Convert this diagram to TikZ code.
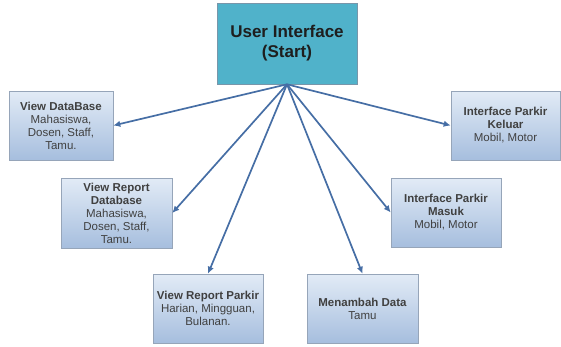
\documentclass[tikz,border=0pt]{standalone}
\usepackage{fontspec}
\setmainfont{Liberation Sans}
\usetikzlibrary{arrows.meta}
\definecolor{topfill}{RGB}{80,178,202}
\definecolor{topline}{RGB}{120,150,170}
\definecolor{boxtop}{RGB}{226,235,246}
\definecolor{boxbot}{RGB}{166,190,222}
\definecolor{boxline}{RGB}{150,165,185}
\definecolor{arrcol}{RGB}{70,110,165}
\definecolor{txt}{RGB}{30,30,30}
\begin{document}
\begin{tikzpicture}[x=1pt,y=1pt,
  topbox/.style={draw=topline,line width=0.6pt,fill=topfill,minimum width=140pt,minimum height=81pt,
    align=center,font=\fontsize{17}{20}\selectfont\bfseries,text=txt,inner sep=0pt},
  subbox/.style={draw=boxline,line width=0.6pt,top color=boxtop,bottom color=boxbot,
    minimum height=69pt,align=center,font=\fontsize{11.5}{13}\selectfont,text=txt!85,inner sep=0pt},
  arr/.style={draw=arrcol,line width=1.7pt,-{Latex[length=7pt,width=6.5pt]}}]
\useasboundingbox (0,0) rectangle (561,-346);
\node[topbox] (top) at (287,-43.5) {User Interface\\(Start)};
\node[subbox,minimum width=104pt] (b1) at (61,-125.5) {\textbf{View DataBase}\\Mahasiswa,\\Dosen, Staff,\\Tamu.};
\node[subbox,minimum width=111pt,minimum height=70pt] (b2) at (116.5,-213) {\textbf{View Report}\\\textbf{Database}\\Mahasiswa,\\Dosen, Staff,\\Tamu.};
\node[subbox,minimum width=110pt] (b3) at (208,-308.5) {\textbf{View Report Parkir}\\Harian, Mingguan,\\Bulanan.};
\node[subbox,minimum width=111pt] (b4) at (362.5,-308.5) {\textbf{Menambah Data}\\Tamu};
\node[subbox,minimum width=110pt] (b5) at (446,-212.5) {\textbf{Interface Parkir}\\\textbf{Masuk}\\Mobil, Motor};
\node[subbox,minimum width=109pt] (b6) at (505.5,-125.5) {\textbf{Interface Parkir}\\\textbf{Keluar}\\Mobil, Motor};
\coordinate (src) at (top.south);
\draw[arr] (src) -- (b1.east);
\draw[arr] (src) -- (b2.east);
\draw[arr] (src) -- (b3.north);
\draw[arr] (src) -- (b4.north);
\draw[arr] (src) -- (b5.west);
\draw[arr] (src) -- (b6.west);
\end{tikzpicture}
\end{document}
